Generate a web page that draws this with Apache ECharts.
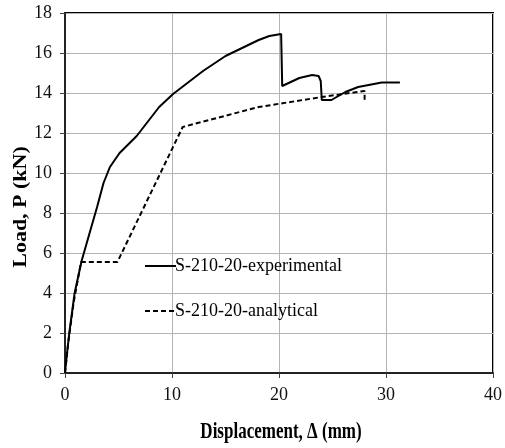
<!DOCTYPE html>
<html>
<head>
<meta charset="utf-8">
<script src="https://cdn.jsdelivr.net/npm/echarts@6/dist/echarts.min.js"></script>
<style>
  html, body { margin: 0; padding: 0; background: #fff; }
  #chart { width: 505px; height: 448px; }
</style>
</head>
<body>
<div id="chart"></div>
<script>
// Load–displacement response of specimen S-210-20
var seriesNames = ['S-210-20-experimental', 'S-210-20-analytical'];

// Measured curve: [displacement (mm), load (kN)]
var experimental = [
  [0, 0], [0.15, 0.8], [0.4, 2.0], [0.9, 4.0], [1.55, 5.6], [2.3, 7.0],
  [3.0, 8.3], [3.6, 9.5], [4.2, 10.3], [5.1, 11.0], [6.7, 11.85],
  [8.8, 13.3], [10.1, 13.95], [12.9, 15.1], [15.0, 15.85], [18.1, 16.65],
  [19.1, 16.85], [20.2, 16.95], [20.3, 14.35], [21.9, 14.75], [23.1, 14.9],
  [23.7, 14.85], [23.9, 14.6], [24.0, 13.65], [24.9, 13.65], [26.2, 14.05],
  [27.4, 14.3], [29.6, 14.53], [31.3, 14.53]
];

// Predicted curve: [displacement (mm), load (kN)]
var analytical = [
  [0, 0], [0.3, 1.5], [0.8, 3.5], [1.5, 5.55], [4.9, 5.55], [11.0, 12.3],
  [18.1, 13.3], [24.0, 13.8], [28.0, 14.1], [28.0, 13.6]
];

var xTicks = { min: 0, max: 40, interval: 10 };
var yTicks = { min: 0, max: 18, interval: 2 };
var xTitle = 'Displacement, Δ (mm)';
var yTitle = 'Load, P (kN)';

var serif = '"Liberation Serif", "DejaVu Serif", serif';
var chart = echarts.init(document.getElementById('chart'));

chart.setOption({
  animation: false,
  backgroundColor: '#fff',
  grid: {
    left: 65, right: 10, top: 13, bottom: 75,
    show: true, borderColor: '#000', borderWidth: 2, backgroundColor: 'transparent'
  },
  legend: {
    orient: 'vertical',
    left: 139, top: 252,
    itemWidth: 31, itemHeight: 20, itemGap: 27,
    data: seriesNames,
    itemStyle: { opacity: 0 },
    textStyle: { fontFamily: serif, fontSize: 18, color: '#000', padding: [0, 0, 0, -6] }
  },
  xAxis: {
    type: 'value',
    min: xTicks.min, max: xTicks.max, interval: xTicks.interval,
    axisLine: { lineStyle: { color: '#222', width: 2 } },
    axisTick: { show: true, length: 5, lineStyle: { color: '#444' } },
    axisLabel: { fontFamily: serif, fontSize: 18, color: '#111', margin: 13 },
    splitLine: { show: true, lineStyle: { color: '#b4b4b4', width: 1 } }
  },
  yAxis: {
    type: 'value',
    min: yTicks.min, max: yTicks.max, interval: yTicks.interval,
    axisLine: { show: true, lineStyle: { color: '#222', width: 2 } },
    axisTick: { show: true, length: 5, lineStyle: { color: '#444' } },
    axisLabel: { fontFamily: serif, fontSize: 18, color: '#111', margin: 13 },
    splitLine: { show: true, lineStyle: { color: '#b4b4b4', width: 1 } }
  },
  graphic: [
    {
      // axis titles, drawn in a tall narrow bold serif
      type: 'text',
      x: 21, y: 207,
      rotation: Math.PI / 2,
      scaleX: 1.22, scaleY: 1,
      style: {
        text: yTitle,
        fontFamily: serif, fontSize: 18, fontWeight: 'bold', fill: '#000',
        align: 'center', verticalAlign: 'middle'
      }
    },
    {
      type: 'text',
      x: 281, y: 432,
      scaleX: 1, scaleY: 1.3,
      style: {
        text: xTitle,
        fontFamily: serif, fontSize: 17, fontWeight: 'bold', fill: '#000',
        align: 'center', verticalAlign: 'middle'
      }
    }
  ],
  series: [
    {
      name: seriesNames[0],
      type: 'line',
      data: experimental,
      showSymbol: false, symbol: 'none',
      lineStyle: { color: '#000', width: 2, type: 'solid' },
      itemStyle: { color: '#000' }
    },
    {
      name: seriesNames[1],
      type: 'line',
      data: analytical,
      showSymbol: false, symbol: 'none',
      lineStyle: { color: '#000', width: 2, type: [5, 3] },
      itemStyle: { color: '#000' }
    }
  ]
});
</script>
</body>
</html>
